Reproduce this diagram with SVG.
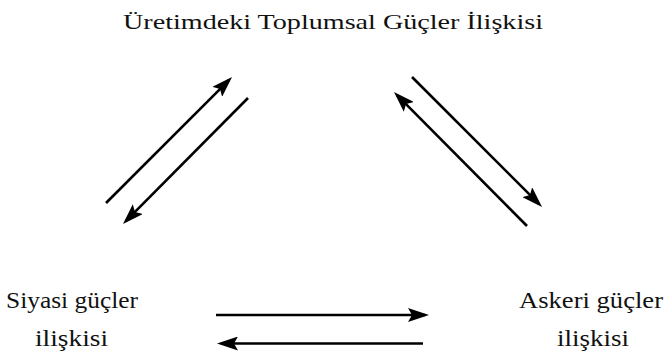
<svg xmlns="http://www.w3.org/2000/svg" width="669" height="356" viewBox="0 0 669 356">
<defs>
<style>
.t{font-family:"Liberation Serif","DejaVu Serif",serif;font-size:23px;fill:#111;}
.h{font-size:22px;}
.c line{stroke:#000;stroke-width:2.6;fill:none;marker-end:url(#ah);}
</style>
<marker id="ah" markerUnits="userSpaceOnUse" markerWidth="22" markerHeight="14" refX="17" refY="7" orient="auto" viewBox="0 0 22 14">
<path d="M0,0 L21,7 L0,14 L4,7 z" fill="#000"/>
</marker>
</defs>
<rect width="669" height="356" fill="#fff"/>
<g id="title"><text class="t h" x="123" y="29" textLength="420" lengthAdjust="spacingAndGlyphs">Üretimdeki Toplumsal Güçler İlişkisi</text></g>
<g id="siyasi"><text class="t" x="6" y="308" textLength="132" lengthAdjust="spacingAndGlyphs">Siyasi güçler</text><text class="t" x="35" y="346" textLength="73" lengthAdjust="spacingAndGlyphs">ilişkisi</text></g>
<g id="askeri"><text class="t" x="519" y="308" textLength="144" lengthAdjust="spacingAndGlyphs">Askeri güçler</text><text class="t" x="557" y="346" textLength="72" lengthAdjust="spacingAndGlyphs">ilişkisi</text></g>
<g id="connectors" class="c">
<line x1="106" y1="203" x2="229.2" y2="79.8"/>
<line x1="248" y1="98" x2="125.8" y2="221.2"/>
<line x1="412" y1="77" x2="539.2" y2="204.2"/>
<line x1="527" y1="226" x2="396.8" y2="94.8"/>
<line x1="216" y1="315" x2="425" y2="315"/>
<line x1="423" y1="343.5" x2="221" y2="343.5"/>
</g>
</svg>
